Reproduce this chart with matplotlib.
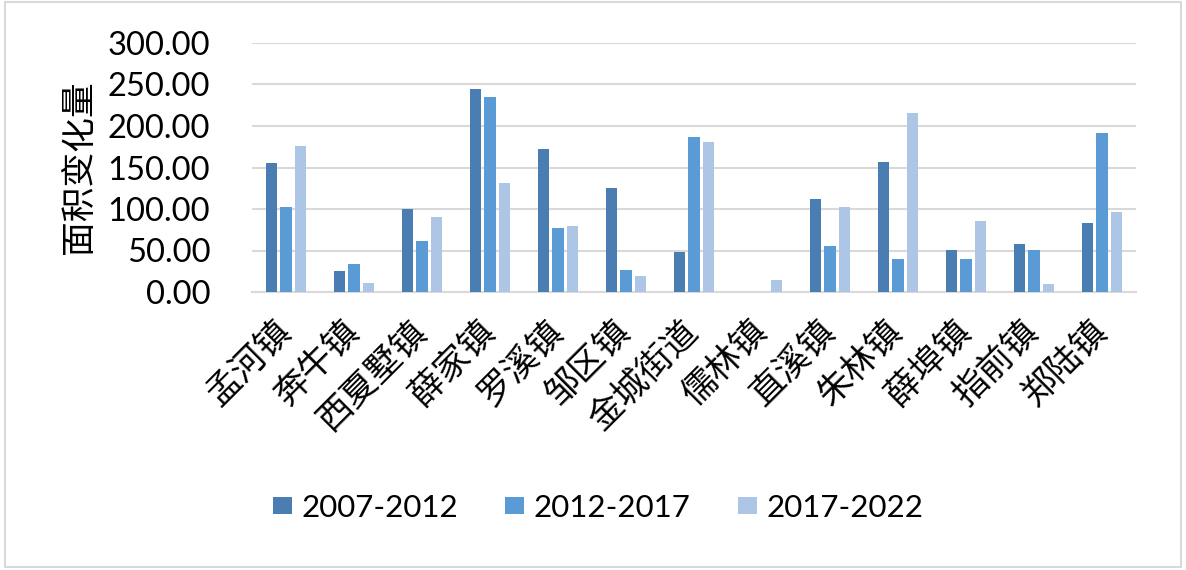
import numpy as np
import matplotlib.pyplot as plt
from matplotlib.patches import Rectangle

plt.rcParams['font.family'] = ['Lato', 'Noto Sans CJK SC', 'DejaVu Sans']

towns = ['孟河镇', '奔牛镇', '西夏墅镇', '薛家镇', '罗溪镇', '邹区镇', '金城街道',
         '儒林镇', '直溪镇', '朱林镇', '薛埠镇', '指前镇', '郑陆镇']
series_names = ['2007-2012', '2012-2017', '2017-2022']
v_0712 = [156, 25, 100, 245, 172, 125, 48, 0, 112, 157, 51, 58, 83]
v_1217 = [102, 34, 61, 235, 77, 27, 187, 0, 55, 40, 40, 51, 191]
v_1722 = [176, 11, 90, 131, 79, 19, 181, 15, 102, 216, 86, 10, 96]
colors = ['#4A7EB3', '#5B9BD5', '#ADC6E5']

fig = plt.figure(figsize=(11.86, 5.70), dpi=100)
ax = fig.add_axes([252 / 1186, 1 - 292 / 570, (1136 - 252) / 1186, (292 - 43) / 570])

x = np.arange(len(towns))
w = 0.17
step = 0.215
for i, (vals, name) in enumerate(zip([v_0712, v_1217, v_1722], series_names)):
    ax.bar(x + (i - 1) * step, vals, width=w, color=colors[i], label=name, zorder=3)

ax.set_xlim(-0.5, len(towns) - 0.5)
ax.set_ylim(0, 300)
ax.set_yticks(np.arange(0, 301, 50))
ax.set_yticklabels(['%.2f' % v for v in np.arange(0, 301, 50)], fontsize=23.5)
ax.yaxis.grid(True, color='#D9D9D9', linewidth=1.5, zorder=0)
for s in ['top', 'right', 'left']:
    ax.spines[s].set_visible(False)
ax.spines['bottom'].set_color('#D9D9D9')
ax.spines['bottom'].set_linewidth(1.5)
ax.tick_params(axis='y', length=0, pad=30)
ax.tick_params(axis='x', length=0, pad=25)

ax.set_xticks(x)
ax.set_xticklabels(towns, rotation=45, ha='right', va='center', rotation_mode='anchor',
                   fontsize=25, family=['Noto Sans CJK SC'])

ax.set_ylabel('面积变化量', fontsize=25, family=['Noto Sans CJK SC'], labelpad=8)

fig.legend(loc='center', bbox_to_anchor=(598 / 1186, 1 - 508 / 570), ncol=3, frameon=False,
           fontsize=22.5, handlelength=0.62, handleheight=0.45, handletextpad=0.3,
           columnspacing=1.5)

fig.patches.append(Rectangle((0.004, 0.006), 0.992, 0.99, transform=fig.transFigure,
                             fill=False, edgecolor='#D9D9D9', linewidth=1.5))

fig.savefig('out.png', dpi=100)
